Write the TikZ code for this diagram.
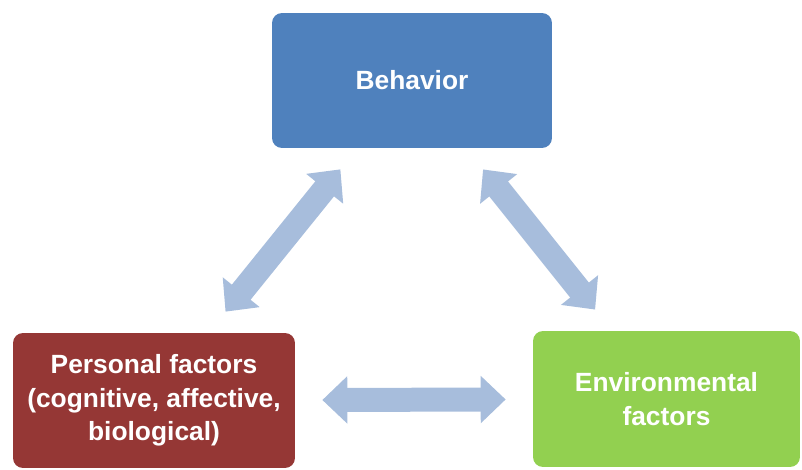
\documentclass[tikz,border=0pt]{standalone}
\usepackage{fontspec}
\setmainfont{Liberation Sans}
\usetikzlibrary{arrows.meta}

\definecolor{behblue}{HTML}{4F81BD}
\definecolor{persred}{HTML}{953735}
\definecolor{envgreen}{HTML}{92D050}
\definecolor{arrowblue}{HTML}{A7BDDC}

\begin{document}
\begin{tikzpicture}[
        x=0.02cm, y=-0.02cm,
        factor/.style={
            rounded corners=0.2cm,
            inner sep=0pt,
            minimum height=2.7cm,
            text=white,
            align=center,
            font=\fontsize{15pt}{19pt}\selectfont\bfseries
        },
        twoway/.style={
            line width=0.48cm,
            arrowblue,
            {Triangle[width=0.92cm,length=0.5cm]}-{Triangle[width=0.92cm,length=0.5cm]},
            shorten <=0.54cm, shorten >=0.54cm
        }
    ]
        % --- 画面の大きさ ---
        \useasboundingbox (0,0) rectangle (802,470);

        % --- 三つの要因 ---
        \node[factor, fill=behblue, minimum width=5.6cm] (beh) at (412,80.5) {Behavior};
        \node[factor, fill=persred, minimum width=5.64cm] (pers) at (154,400.5)
            {Personal factors\\(cognitive, affective,\\biological)};
        \node[factor, fill=envgreen, minimum width=5.34cm, minimum height=2.72cm] (env) at (666.5,399)
            {Environmental\\factors};

        % --- 双方向の矢印 ---
        \foreach \a/\b in {beh/pers, beh/env, pers/env} {
            \draw[twoway] (\a) -- (\b);
        }

    \end{tikzpicture}
\end{document}
